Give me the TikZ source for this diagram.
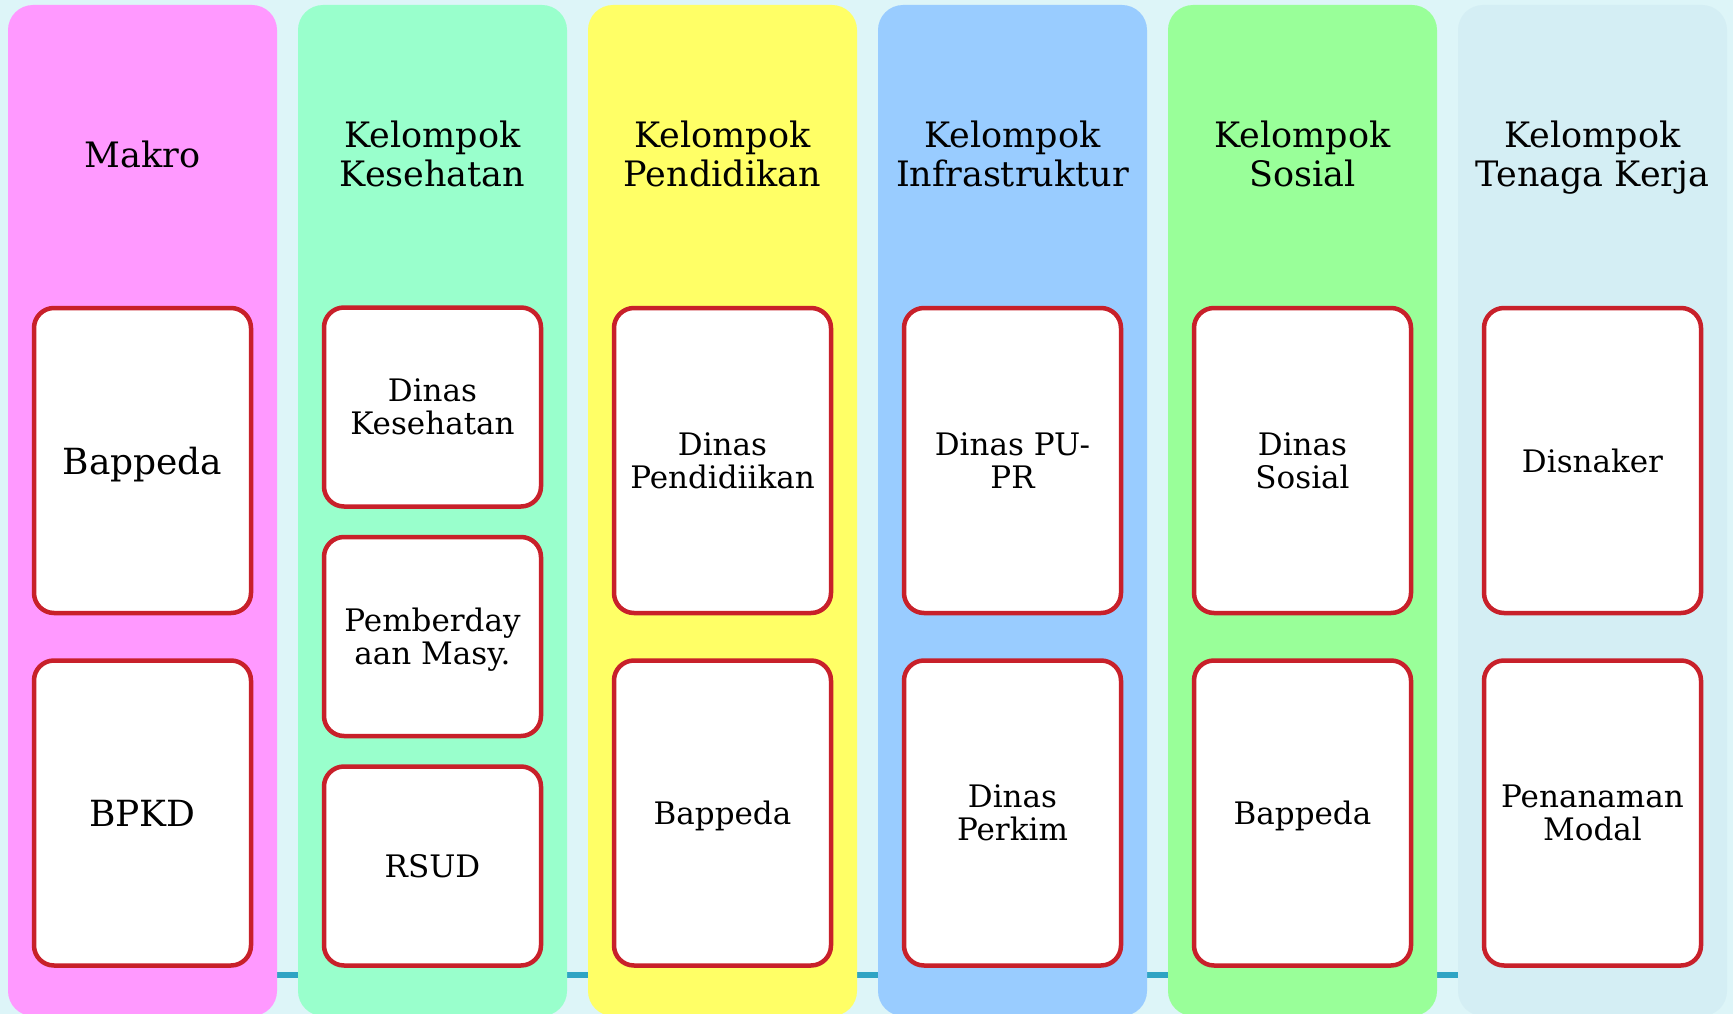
\documentclass[tikz,border=0pt]{standalone}
\usepackage{fontspec}
\setmainfont{DejaVu Serif}
\definecolor{bgc}{HTML}{DDF5F8}
\definecolor{cA}{HTML}{FF99FF}
\definecolor{cB}{HTML}{99FFCC}
\definecolor{cC}{HTML}{FFFF66}
\definecolor{cD}{HTML}{99CCFF}
\definecolor{cE}{HTML}{99FF99}
\definecolor{cF}{HTML}{D4EEF4}
\definecolor{tealline}{HTML}{2FA4C4}
\definecolor{boxred}{HTML}{C8202A}
\tikzset{
  colbox/.style={rounded corners=25pt, inner sep=0pt, minimum width=269pt, minimum height=1011pt},
  headtxt/.style={align=center, font=\fontsize{35}{39}\selectfont, text=black, text depth=0pt},
  cardbox/.style={draw=boxred, line width=4.5pt, fill=white, rounded corners=20pt, inner sep=0pt, minimum width=217pt, align=center, text depth=0pt, font=\fontsize{31}{33}\selectfont},
  tallcard/.style={cardbox, minimum height=305pt},
  shortcard/.style={cardbox, minimum height=199pt},
  bigcard/.style={tallcard, font=\fontsize{36}{39}\selectfont},
}
\begin{document}
\begin{tikzpicture}[x=1pt,y=-1pt]
\useasboundingbox (0,0) rectangle (1733,1014);
\fill[bgc] (0,0) rectangle (1733,1014);
\coordinate (l0) at (142.5,975);
\coordinate (l1) at (1592.5,975);
\draw[tealline, line width=6pt] (l0) -- (l1);
% columns
\node[colbox, fill=cA] (k1) at (142.5,510.5) {};
\node[colbox, fill=cB] (k2) at (432.5,510.5) {};
\node[colbox, fill=cC] (k3) at (722.5,510.5) {};
\node[colbox, fill=cD] (k4) at (1012.5,510.5) {};
\node[colbox, fill=cE] (k5) at (1302.5,510.5) {};
\node[colbox, fill=cF] (k6) at (1592.5,510.5) {};
% headers
\node[headtxt] (h1) at (142.5,154) {Makro};
\node[headtxt] (h2) at (432.5,154) {Kelompok\\Kesehatan};
\node[headtxt] (h3) at (722.5,154) {Kelompok\\Pendidikan};
\node[headtxt] (h4) at (1012.5,154) {Kelompok\\Infrastruktur};
\node[headtxt] (h5) at (1302.5,154) {Kelompok\\Sosial};
\node[headtxt] (h6) at (1592.5,154) {Kelompok\\Tenaga Kerja};
% column 1
\node[bigcard] (b11) at (142.5,460.5) {Bappeda};
\node[bigcard] (b12) at (142.5,813) {BPKD};
% column 2
\node[shortcard] (b21) at (432.5,407) {Dinas\\Kesehatan};
\node[shortcard] (b22) at (432.5,636.5) {Pemberday\\aan Masy.};
\node[shortcard] (b23) at (432.5,866) {RSUD};
% column 3
\node[tallcard] (b31) at (722.5,460.5) {Dinas\\Pendidiikan};
\node[tallcard] (b32) at (722.5,813) {Bappeda};
% column 4
\node[tallcard] (b41) at (1012.5,460.5) {Dinas PU-\\PR};
\node[tallcard] (b42) at (1012.5,813) {Dinas\\Perkim};
% column 5
\node[tallcard] (b51) at (1302.5,460.5) {Dinas\\Sosial};
\node[tallcard] (b52) at (1302.5,813) {Bappeda};
% column 6
\node[tallcard] (b61) at (1592.5,460.5) {Disnaker};
\node[tallcard] (b62) at (1592.5,813) {Penanaman\\Modal};
\end{tikzpicture}
\end{document}
